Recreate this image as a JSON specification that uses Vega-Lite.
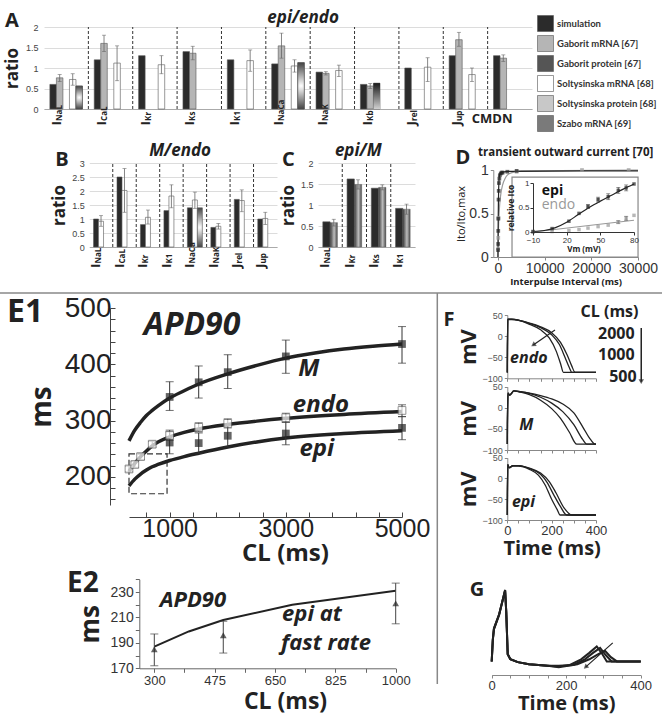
{
"$schema":"https://vega.github.io/schema/vega-lite/v6.json",
"width":662,
"height":717,
"autosize":{"type":"none"},
"padding":0,
"background":"white",
"config":{
  "view":{"stroke":null},
  "font":"Open Sans",
  "axis":{"labelFont":"Liberation Sans","labelColor":"#444","domainColor":"#888","tickColor":"#888","titleFont":"Open Sans","titleFontWeight":"bold","titleColor":"#222","grid":false,"labelOverlap":false},
  "text":{"font":"Open Sans","color":"#222"}
},
"resolve":{"scale":{"x":"independent","y":"independent","xOffset":"independent"}},
"datasets":{
 "A":[
  {"c":"INaL","s":"simulation","v":0.6},
  {"c":"INaL","s":"Gaborit mRNA [67]","v":0.76,"lo":0.67,"hi":0.84},
  {"c":"INaL","s":"Soltysinska mRNA [68]","v":0.72,"lo":0.58,"hi":0.86},
  {"c":"INaL","s":"Soltysinska protein [68]","v":0.56},
  {"c":"ICaL","s":"simulation","v":1.2},
  {"c":"ICaL","s":"Gaborit mRNA [67]","v":1.6,"lo":1.4,"hi":1.8},
  {"c":"ICaL","s":"Soltysinska mRNA [68]","v":1.12,"lo":0.69,"hi":1.54},
  {"c":"IKr","s":"simulation","v":1.3},
  {"c":"IKr","s":"Soltysinska mRNA [68]","v":1.08,"lo":0.86,"hi":1.3},
  {"c":"IKs","s":"simulation","v":1.4},
  {"c":"IKs","s":"Gaborit mRNA [67]","v":1.36,"lo":1.2,"hi":1.53},
  {"c":"IK1","s":"simulation","v":1.2},
  {"c":"IK1","s":"Soltysinska mRNA [68]","v":1.18,"lo":0.92,"hi":1.44},
  {"c":"INaCa","s":"simulation","v":1.1},
  {"c":"INaCa","s":"Gaborit mRNA [67]","v":1.54,"lo":1.24,"hi":1.85},
  {"c":"INaCa","s":"Soltysinska mRNA [68]","v":1.05,"lo":0.9,"hi":1.2},
  {"c":"INaCa","s":"Soltysinska protein [68]","v":1.13},
  {"c":"INaK","s":"simulation","v":0.9},
  {"c":"INaK","s":"Gaborit mRNA [67]","v":0.87,"lo":0.83,"hi":0.91},
  {"c":"INaK","s":"Soltysinska mRNA [68]","v":0.94,"lo":0.79,"hi":1.07},
  {"c":"IKb","s":"simulation","v":0.6},
  {"c":"IKb","s":"Gaborit mRNA [67]","v":0.56,"lo":0.5,"hi":0.62},
  {"c":"IKb","s":"Gaborit protein [67]","v":0.63},
  {"c":"Jrel","s":"simulation","v":1.0},
  {"c":"Jrel","s":"Soltysinska mRNA [68]","v":1.02,"lo":0.67,"hi":1.25},
  {"c":"Jup","s":"simulation","v":1.3},
  {"c":"Jup","s":"Gaborit mRNA [67]","v":1.69,"lo":1.53,"hi":1.87},
  {"c":"Jup","s":"Soltysinska mRNA [68]","v":0.84,"lo":0.67,"hi":1.0},
  {"c":"CMDN","s":"simulation","v":1.3},
  {"c":"CMDN","s":"Gaborit mRNA [67]","v":1.24,"lo":1.16,"hi":1.32}
 ],
 "Alab":[
  {"c":"INaL","m":"I","sub":"NaL"},{"c":"ICaL","m":"I","sub":"CaL"},{"c":"IKr","m":"I","sub":"Kr"},{"c":"IKs","m":"I","sub":"Ks"},{"c":"IK1","m":"I","sub":"K1"},{"c":"INaCa","m":"I","sub":"NaCa"},{"c":"INaK","m":"I","sub":"NaK"},{"c":"IKb","m":"I","sub":"Kb"},{"c":"Jrel","m":"J","sub":"rel"},{"c":"Jup","m":"J","sub":"up"},{"c":"CMDN","m":"CMDN","sub":""}
 ],
 "B":[
  {"c":"INaL","s":"simulation","v":1.0},{"c":"INaL","s":"Soltysinska mRNA [68]","v":0.92,"lo":0.74,"hi":1.12},
  {"c":"ICaL","s":"simulation","v":2.5},{"c":"ICaL","s":"Soltysinska mRNA [68]","v":2.02,"lo":1.24,"hi":2.8},
  {"c":"IKr","s":"simulation","v":0.8},{"c":"IKr","s":"Soltysinska mRNA [68]","v":1.06,"lo":0.82,"hi":1.32},
  {"c":"IK1","s":"simulation","v":1.3},{"c":"IK1","s":"Soltysinska mRNA [68]","v":1.82,"lo":1.4,"hi":2.22},
  {"c":"INaCa","s":"simulation","v":1.4},{"c":"INaCa","s":"Soltysinska mRNA [68]","v":1.68,"lo":1.38,"hi":1.96},{"c":"INaCa","s":"Soltysinska protein [68]","v":1.4},
  {"c":"INaK","s":"simulation","v":0.7},{"c":"INaK","s":"Soltysinska mRNA [68]","v":0.74,"lo":0.64,"hi":0.84},
  {"c":"Jrel","s":"simulation","v":1.7},{"c":"Jrel","s":"Soltysinska mRNA [68]","v":1.66,"lo":1.26,"hi":2.04},
  {"c":"Jup","s":"simulation","v":1.0},{"c":"Jup","s":"Soltysinska mRNA [68]","v":1.02,"lo":0.8,"hi":1.24}
 ],
 "Blab":[
  {"c":"INaL","m":"I","sub":"NaL"},{"c":"ICaL","m":"I","sub":"CaL"},{"c":"IKr","m":"I","sub":"Kr"},{"c":"IK1","m":"I","sub":"K1"},{"c":"INaCa","m":"I","sub":"NaCa"},{"c":"INaK","m":"I","sub":"NaK"},{"c":"Jrel","m":"J","sub":"rel"},{"c":"Jup","m":"J","sub":"up"}
 ],
 "C":[
  {"c":"INaL","s":"simulation","v":0.6},{"c":"INaL","s":"Szabo mRNA [69]","v":0.58,"lo":0.5,"hi":0.66},
  {"c":"IKr","s":"simulation","v":1.62},{"c":"IKr","s":"Szabo mRNA [69]","v":1.49,"lo":1.38,"hi":1.6},
  {"c":"IKs","s":"simulation","v":1.4},{"c":"IKs","s":"Szabo mRNA [69]","v":1.42,"lo":1.36,"hi":1.48},
  {"c":"IK1","s":"simulation","v":0.92},{"c":"IK1","s":"Szabo mRNA [69]","v":0.9,"lo":0.78,"hi":1.02}
 ],
 "Clab":[
  {"c":"INaL","m":"I","sub":"NaL"},{"c":"IKr","m":"I","sub":"Kr"},{"c":"IKs","m":"I","sub":"Ks"},{"c":"IK1","m":"I","sub":"K1"}
 ],
 "Dpts":[
  {"g":"epi","t":20,"v":0.08},{"g":"epi","t":40,"v":0.15},{"g":"epi","t":60,"v":0.3},{"g":"epi","t":80,"v":0.44},{"g":"epi","t":120,"v":0.66},{"g":"epi","t":160,"v":0.76},{"g":"epi","t":200,"v":0.85},{"g":"epi","t":300,"v":0.9},{"g":"epi","t":400,"v":0.94},{"g":"epi","t":600,"v":0.96},{"g":"epi","t":800,"v":0.97},{"g":"epi","t":1000,"v":0.97},{"g":"epi","t":2000,"v":0.98},{"g":"epi","t":4000,"v":0.99},
  {"g":"endo","t":30,"v":0.1},{"g":"endo","t":60,"v":0.22},{"g":"endo","t":100,"v":0.45},{"g":"endo","t":2800,"v":0.8},{"g":"endo","t":4000,"v":0.98},{"g":"endo","t":18000,"v":1.0},{"g":"endo","t":28000,"v":1.0}
 ],
 "Dfit":[
  {"g":"epi","t":0,"v":0},{"g":"epi","t":20,"v":0.2},{"g":"epi","t":50,"v":0.42},{"g":"epi","t":100,"v":0.65},{"g":"epi","t":150,"v":0.78},{"g":"epi","t":200,"v":0.86},{"g":"epi","t":300,"v":0.93},{"g":"epi","t":500,"v":0.965},{"g":"epi","t":1000,"v":0.975},{"g":"epi","t":3000,"v":0.985},{"g":"epi","t":30000,"v":0.99},
  {"g":"endo","t":0,"v":0},{"g":"endo","t":100,"v":0.3},{"g":"endo","t":300,"v":0.55},{"g":"endo","t":600,"v":0.72},{"g":"endo","t":1000,"v":0.83},{"g":"endo","t":1500,"v":0.9},{"g":"endo","t":2000,"v":0.94},{"g":"endo","t":3000,"v":0.97},{"g":"endo","t":5000,"v":0.99},{"g":"endo","t":30000,"v":1.0}
 ],
 "Dinpts":[
  {"g":"epi","vm":-10,"r":0.01},{"g":"epi","vm":7,"r":0.07},{"g":"epi","vm":22,"r":0.22},{"g":"epi","vm":31,"r":0.38},{"g":"epi","vm":39,"r":0.52,"lo":0.48,"hi":0.56},{"g":"epi","vm":48,"r":0.66,"lo":0.61,"hi":0.71},{"g":"epi","vm":57,"r":0.72,"lo":0.66,"hi":0.78},{"g":"epi","vm":66,"r":0.85,"lo":0.79,"hi":0.91},{"g":"epi","vm":73,"r":0.9,"lo":0.84,"hi":0.96},{"g":"epi","vm":80,"r":0.98},
  {"g":"endo","vm":-10,"r":0.0},{"g":"endo","vm":7,"r":0.01},{"g":"endo","vm":22,"r":0.03},{"g":"endo","vm":31,"r":0.05},{"g":"endo","vm":39,"r":0.08},{"g":"endo","vm":48,"r":0.11},{"g":"endo","vm":57,"r":0.14},{"g":"endo","vm":66,"r":0.2,"lo":0.17,"hi":0.23},{"g":"endo","vm":73,"r":0.28,"lo":0.24,"hi":0.32},{"g":"endo","vm":80,"r":0.34}
 ],
 "Dinfit":[
  {"g":"epi","vm":-10,"r":0.01},{"g":"epi","vm":0,"r":0.03},{"g":"epi","vm":10,"r":0.09},{"g":"epi","vm":20,"r":0.2},{"g":"epi","vm":30,"r":0.35},{"g":"epi","vm":40,"r":0.5},{"g":"epi","vm":50,"r":0.63},{"g":"epi","vm":60,"r":0.75},{"g":"epi","vm":70,"r":0.87},{"g":"epi","vm":80,"r":0.98},
  {"g":"endo","vm":-10,"r":0.0},{"g":"endo","vm":80,"r":0.24}
 ],
 "E1pts":[
  {"g":"M","cl":1000,"v":342,"lo":318,"hi":369},{"g":"M","cl":1500,"v":368,"lo":340,"hi":397},{"g":"M","cl":2000,"v":386,"lo":357,"hi":417},{"g":"M","cl":3000,"v":414,"lo":384,"hi":443},{"g":"M","cl":5000,"v":436,"lo":402,"hi":467},
  {"g":"endo","cl":300,"v":214,"lo":209,"hi":219},{"g":"endo","cl":400,"v":222,"lo":217,"hi":227},{"g":"endo","cl":500,"v":236,"lo":231,"hi":241},{"g":"endo","cl":700,"v":258,"lo":253,"hi":263},{"g":"endo","cl":1000,"v":274,"lo":265,"hi":283},{"g":"endo","cl":1500,"v":288,"lo":280,"hi":296},{"g":"endo","cl":2000,"v":295,"lo":287,"hi":303},{"g":"endo","cl":3000,"v":305,"lo":297,"hi":313},{"g":"endo","cl":5000,"v":318,"lo":307,"hi":328},
  {"g":"epi","cl":1000,"v":261,"lo":241,"hi":280},{"g":"epi","cl":1500,"v":260,"lo":242,"hi":278},{"g":"epi","cl":2000,"v":273,"lo":253,"hi":292},{"g":"epi","cl":3000,"v":277,"lo":257,"hi":297},{"g":"epi","cl":5000,"v":287,"lo":266,"hi":307}
 ],
 "E1fit":[
  {"g":"M","cl":300,"v":264},{"g":"M","cl":400,"v":283},{"g":"M","cl":500,"v":297},{"g":"M","cl":600,"v":309},{"g":"M","cl":700,"v":318},{"g":"M","cl":800,"v":326},{"g":"M","cl":1000,"v":340},{"g":"M","cl":1250,"v":353},{"g":"M","cl":1500,"v":365},{"g":"M","cl":2000,"v":383},{"g":"M","cl":2500,"v":398},{"g":"M","cl":3000,"v":411},{"g":"M","cl":3500,"v":420},{"g":"M","cl":4000,"v":427},{"g":"M","cl":4500,"v":432},{"g":"M","cl":5000,"v":436},
  {"g":"endo","cl":300,"v":210},{"g":"endo","cl":400,"v":224},{"g":"endo","cl":500,"v":236},{"g":"endo","cl":600,"v":246},{"g":"endo","cl":700,"v":255},{"g":"endo","cl":800,"v":262},{"g":"endo","cl":1000,"v":271},{"g":"endo","cl":1250,"v":279},{"g":"endo","cl":1500,"v":285},{"g":"endo","cl":2000,"v":293},{"g":"endo","cl":2500,"v":299},{"g":"endo","cl":3000,"v":304},{"g":"endo","cl":4000,"v":311},{"g":"endo","cl":5000,"v":316},
  {"g":"epi","cl":300,"v":184},{"g":"epi","cl":400,"v":196},{"g":"epi","cl":500,"v":205},{"g":"epi","cl":600,"v":212},{"g":"epi","cl":700,"v":218},{"g":"epi","cl":800,"v":222},{"g":"epi","cl":1000,"v":229},{"g":"epi","cl":1250,"v":236},{"g":"epi","cl":1500,"v":242},{"g":"epi","cl":2000,"v":253},{"g":"epi","cl":2500,"v":262},{"g":"epi","cl":3000,"v":269},{"g":"epi","cl":4000,"v":277},{"g":"epi","cl":5000,"v":282}
 ],
 "E2pts":[{"cl":300,"v":185,"lo":172,"hi":197},{"cl":500,"v":196,"lo":182,"hi":207},{"cl":1000,"v":221,"lo":205,"hi":237}],
 "E2fit":[{"cl":300,"v":187},{"cl":400,"v":199},{"cl":500,"v":208},{"cl":700,"v":220},{"cl":1000,"v":231}],
 "Fendo":[
  {"c":2000,"t":0,"v":-86},{"c":2000,"t":0.5,"v":-40},{"c":2000,"t":2,"v":40},{"c":2000,"t":20,"v":40},{"c":2000,"t":50,"v":38},{"c":2000,"t":100,"v":31},{"c":2000,"t":150,"v":22},{"c":2000,"t":200,"v":8},{"c":2000,"t":240,"v":-15},{"c":2000,"t":270,"v":-45},{"c":2000,"t":290,"v":-70},{"c":2000,"t":306,"v":-86},{"c":2000,"t":400,"v":-86},
  {"c":1000,"t":0,"v":-86},{"c":1000,"t":0.5,"v":-40},{"c":1000,"t":2,"v":40},{"c":1000,"t":20,"v":40},{"c":1000,"t":50,"v":38},{"c":1000,"t":100,"v":30},{"c":1000,"t":150,"v":20},{"c":1000,"t":200,"v":3},{"c":1000,"t":235,"v":-20},{"c":1000,"t":260,"v":-50},{"c":1000,"t":280,"v":-75},{"c":1000,"t":291,"v":-86},{"c":1000,"t":400,"v":-86},
  {"c":500,"t":0,"v":-86},{"c":500,"t":0.5,"v":-40},{"c":500,"t":2,"v":39},{"c":500,"t":20,"v":39},{"c":500,"t":50,"v":37},{"c":500,"t":100,"v":28},{"c":500,"t":150,"v":15},{"c":500,"t":190,"v":-5},{"c":500,"t":220,"v":-35},{"c":500,"t":240,"v":-65},{"c":500,"t":253,"v":-86},{"c":500,"t":400,"v":-86}
 ],
 "FM":[
  {"c":2000,"t":0,"v":-86},{"c":2000,"t":0.5,"v":-40},{"c":2000,"t":3,"v":35},{"c":2000,"t":10,"v":30},{"c":2000,"t":30,"v":40},{"c":2000,"t":60,"v":38},{"c":2000,"t":100,"v":35},{"c":2000,"t":150,"v":29},{"c":2000,"t":200,"v":21},{"c":2000,"t":250,"v":9},{"c":2000,"t":300,"v":-12},{"c":2000,"t":340,"v":-45},{"c":2000,"t":375,"v":-75},{"c":2000,"t":396,"v":-86},{"c":2000,"t":400,"v":-86},
  {"c":1000,"t":0,"v":-86},{"c":1000,"t":0.5,"v":-40},{"c":1000,"t":3,"v":35},{"c":1000,"t":10,"v":30},{"c":1000,"t":30,"v":40},{"c":1000,"t":60,"v":38},{"c":1000,"t":100,"v":34},{"c":1000,"t":150,"v":25},{"c":1000,"t":200,"v":11},{"c":1000,"t":250,"v":-9},{"c":1000,"t":300,"v":-40},{"c":1000,"t":340,"v":-75},{"c":1000,"t":358,"v":-86},{"c":1000,"t":400,"v":-86},
  {"c":500,"t":0,"v":-86},{"c":500,"t":0.5,"v":-40},{"c":500,"t":3,"v":35},{"c":500,"t":10,"v":30},{"c":500,"t":30,"v":40},{"c":500,"t":60,"v":37},{"c":500,"t":100,"v":31},{"c":500,"t":150,"v":18},{"c":500,"t":200,"v":-2},{"c":500,"t":240,"v":-25},{"c":500,"t":280,"v":-58},{"c":500,"t":313,"v":-86},{"c":500,"t":400,"v":-86}
 ],
 "Fepi":[
  {"c":2000,"t":0,"v":-88},{"c":2000,"t":0.5,"v":-40},{"c":2000,"t":2,"v":33},{"c":2000,"t":8,"v":26},{"c":2000,"t":25,"v":31},{"c":2000,"t":50,"v":31},{"c":2000,"t":100,"v":25},{"c":2000,"t":150,"v":13},{"c":2000,"t":190,"v":-8},{"c":2000,"t":220,"v":-35},{"c":2000,"t":255,"v":-70},{"c":2000,"t":291,"v":-88},{"c":2000,"t":400,"v":-88},
  {"c":1000,"t":0,"v":-88},{"c":1000,"t":0.5,"v":-40},{"c":1000,"t":2,"v":33},{"c":1000,"t":8,"v":26},{"c":1000,"t":25,"v":31},{"c":1000,"t":50,"v":31},{"c":1000,"t":100,"v":24},{"c":1000,"t":150,"v":10},{"c":1000,"t":180,"v":-10},{"c":1000,"t":210,"v":-40},{"c":1000,"t":240,"v":-68},{"c":1000,"t":268,"v":-88},{"c":1000,"t":400,"v":-88},
  {"c":500,"t":0,"v":-88},{"c":500,"t":0.5,"v":-40},{"c":500,"t":2,"v":33},{"c":500,"t":8,"v":26},{"c":500,"t":25,"v":30},{"c":500,"t":50,"v":30},{"c":500,"t":100,"v":22},{"c":500,"t":140,"v":8},{"c":500,"t":170,"v":-15},{"c":500,"t":200,"v":-50},{"c":500,"t":225,"v":-75},{"c":500,"t":238,"v":-88},{"c":500,"t":400,"v":-88}
 ],
 "G":[
  {"k":"a","t":0,"v":0},{"k":"a","t":3,"v":0.3},{"k":"a","t":6,"v":0.45},{"k":"a","t":20,"v":0.65},{"k":"a","t":36,"v":1.0},{"k":"a","t":39,"v":0.7},{"k":"a","t":43,"v":0.1},{"k":"a","t":50,"v":0.03},{"k":"a","t":70,"v":-0.01},{"k":"a","t":100,"v":-0.04},{"k":"a","t":150,"v":-0.06},{"k":"a","t":180,"v":-0.07},{"k":"a","t":210,"v":-0.05},{"k":"a","t":240,"v":0.03},{"k":"a","t":262,"v":0.12},{"k":"a","t":282,"v":0.21},{"k":"a","t":296,"v":0.11},{"k":"a","t":309,"v":0},{"k":"a","t":400,"v":0},
  {"k":"b","t":0,"v":0},{"k":"b","t":3,"v":0.3},{"k":"b","t":6,"v":0.46},{"k":"b","t":20,"v":0.66},{"k":"b","t":36,"v":1.0},{"k":"b","t":39,"v":0.7},{"k":"b","t":43,"v":0.1},{"k":"b","t":50,"v":0.03},{"k":"b","t":70,"v":-0.01},{"k":"b","t":100,"v":-0.04},{"k":"b","t":150,"v":-0.06},{"k":"b","t":180,"v":-0.06},{"k":"b","t":220,"v":-0.05},{"k":"b","t":250,"v":0.03},{"k":"b","t":272,"v":0.12},{"k":"b","t":291,"v":0.19},{"k":"b","t":306,"v":0.09},{"k":"b","t":322,"v":0},{"k":"b","t":400,"v":0},
  {"k":"c","t":0,"v":0},{"k":"c","t":3,"v":0.31},{"k":"c","t":6,"v":0.46},{"k":"c","t":20,"v":0.66},{"k":"c","t":36,"v":0.99},{"k":"c","t":39,"v":0.7},{"k":"c","t":43,"v":0.1},{"k":"c","t":50,"v":0.03},{"k":"c","t":70,"v":-0.01},{"k":"c","t":100,"v":-0.04},{"k":"c","t":150,"v":-0.06},{"k":"c","t":180,"v":-0.08},{"k":"c","t":230,"v":-0.04},{"k":"c","t":262,"v":0.03},{"k":"c","t":285,"v":0.1},{"k":"c","t":304,"v":0.15},{"k":"c","t":320,"v":0.06},{"k":"c","t":336,"v":0},{"k":"c","t":400,"v":0}
 ]
},
"layer":[
 {
  "encoding":{"x":{"field":"c","type":"nominal","scale":{"domain":["INaL","ICaL","IKr","IKs","IK1","INaCa","INaK","IKb","Jrel","Jup","CMDN"],"range":[44,532],"paddingInner":0,"paddingOuter":0},"axis":{"orient":"bottom","title":null,"labels":false,"ticks":false,"domainColor":"#aaa","offset":-608}}},
  "layer":[
   {"data":{"name":"A"},"mark":{"type":"bar","stroke":"#555","strokeWidth":0.6},
    "encoding":{
     "xOffset":{"field":"s","type":"nominal","scale":{"domain":["simulation","Gaborit mRNA [67]","Gaborit protein [67]","Soltysinska mRNA [68]","Soltysinska protein [68]"],"paddingInner":0,"paddingOuter":0.9}},
     "y":{"field":"v","type":"quantitative","scale":{"domain":[0,2],"range":[109,27]},"axis":{"orient":"left","title":"ratio","values":[0,0.5,1,1.5,2],"format":"~g","grid":true,"gridColor":"#dcdcdc","domain":false,"ticks":false,"labelFontSize":9,"titleFontSize":17,"labelPadding":6,"titlePadding":4,"offset":-44}},
     "color":{"field":"s","type":"nominal","scale":{"domain":["simulation","Gaborit mRNA [67]","Gaborit protein [67]","Soltysinska mRNA [68]","Soltysinska protein [68]","Szabo mRNA [69]"],"range":["#2b2b2b","#b5b5b5","#555555","#ffffff","#c8c8c8","#7a7a7a"]},
      "legend":{"title":null,"orient":"none","legendX":537,"legendY":15,"symbolType":"square","symbolSize":256,"symbolStrokeColor":"#555","symbolStrokeWidth":0.6,"labelFont":"Lato","labelFontSize":9.5,"labelFontWeight":"bold","labelColor":"#333","rowPadding":1,"labelOffset":3,"labelLimit":200}}
    }},
   {"data":{"name":"Alab"},"transform":[{"filter":"datum.c !== 'INaL'"}],"mark":{"type":"rule","strokeDash":[3,2],"color":"#333","strokeWidth":1},"encoding":{"x":{"field":"c","type":"nominal","bandPosition":0},"y":{"datum":0,"type":"quantitative"},"y2":{"datum":2}}},
   {"data":{"name":"A"},"transform":[{"filter":"datum.s === 'Soltysinska protein [68]'"}],
    "mark":{"type":"bar","stroke":"#555","strokeWidth":0.6,"fill":{"gradient":"radial","x1":0.5,"y1":0.5,"r1":0,"x2":0.5,"y2":0.5,"r2":0.6,"stops":[{"offset":0,"color":"#ffffff"},{"offset":1,"color":"#1e1e1e"}]}},
    "encoding":{"xOffset":{"field":"s","type":"nominal"},"y":{"field":"v","type":"quantitative"}}},
   {"data":{"name":"A"},"transform":[{"filter":"datum.s === 'Gaborit protein [67]'"}],
    "mark":{"type":"bar","strokeWidth":0,"fill":{"gradient":"linear","x1":0,"y1":0,"x2":0,"y2":1,"stops":[{"offset":0,"color":"#1a1a1a"},{"offset":1,"color":"#d0d0d0"}]}},
    "encoding":{"xOffset":{"field":"s","type":"nominal"},"y":{"field":"v","type":"quantitative"}}},
   {"data":{"name":"A"},"transform":[{"filter":"isValid(datum.hi)"}],"mark":{"type":"rule","color":"#666","strokeWidth":0.8},"encoding":{"xOffset":{"field":"s","type":"nominal"},"y":{"field":"lo","type":"quantitative"},"y2":{"field":"hi"}}},
   {"data":{"name":"A"},"transform":[{"filter":"isValid(datum.hi)"}],"mark":{"type":"tick","orient":"horizontal","color":"#666","thickness":0.8,"size":4},"encoding":{"xOffset":{"field":"s","type":"nominal"},"y":{"field":"lo","type":"quantitative"}}},
   {"data":{"name":"A"},"transform":[{"filter":"isValid(datum.hi)"}],"mark":{"type":"tick","orient":"horizontal","color":"#666","thickness":0.8,"size":4},"encoding":{"xOffset":{"field":"s","type":"nominal"},"y":{"field":"hi","type":"quantitative"}}},
   {"data":{"name":"Alab"},"transform":[{"filter":"datum.c !== 'CMDN'"}],"mark":{"type":"text","align":"left","baseline":"middle","angle":270,"fontSize":13,"fontWeight":"bold"},"encoding":{"x":{"field":"c","type":"nominal","bandPosition":0.3},"y":{"datum":-0.4,"type":"quantitative"},"text":{"field":"m"}}},
   {"data":{"name":"Alab"},"transform":[{"filter":"datum.c !== 'CMDN'"}],"mark":{"type":"text","align":"left","baseline":"middle","angle":270,"fontSize":8,"fontWeight":"bold","dx":4.5,"dy":3},"encoding":{"x":{"field":"c","type":"nominal","bandPosition":0.3},"y":{"datum":-0.4,"type":"quantitative"},"text":{"field":"sub"}}},
   {"data":{"name":"Alab"},"transform":[{"filter":"datum.c === 'CMDN'"}],"mark":{"type":"text","align":"center","baseline":"middle","fontSize":13,"fontWeight":"bold"},"encoding":{"x":{"field":"c","type":"nominal","bandPosition":0.1},"y":{"datum":-0.24,"type":"quantitative"},"text":{"field":"m"}}},
   {"data":{"values":[{}]},"mark":{"type":"text","fontSize":17,"fontWeight":"bold","fontStyle":"italic","baseline":"middle"},"encoding":{"x":{"datum":"INaCa","type":"nominal","bandPosition":0.84},"y":{"datum":2.22,"type":"quantitative"},"text":{"value":"epi/endo"}}},
   {"data":{"values":[{}]},"mark":{"type":"text","fontSize":20,"fontWeight":"bold","align":"left","baseline":"top"},"encoding":{"x":{"datum":"INaL","type":"nominal","bandPosition":-0.88},"y":{"datum":2.39,"type":"quantitative"},"text":{"value":"A"}}}
  ]
 },
 {
  "encoding":{"x":{"field":"c","type":"nominal","scale":{"domain":["INaL","ICaL","IKr","IK1","INaCa","INaK","Jrel","Jup"],"range":[89.3,277],"paddingInner":0,"paddingOuter":0},"axis":{"orient":"bottom","title":null,"labels":false,"ticks":false,"domainColor":"#aaa","offset":-470}}},
  "layer":[
   {"data":{"name":"B"},"transform":[{"filter":"datum.s === 'simulation'"}],"mark":{"type":"bar","fill":"#2b2b2b","stroke":"#555","strokeWidth":0.6},
    "encoding":{"xOffset":{"field":"s","type":"nominal","scale":{"domain":["simulation","Soltysinska mRNA [68]","Soltysinska protein [68]"],"paddingInner":0,"paddingOuter":0.85}},
     "y":{"field":"v","type":"quantitative","scale":{"domain":[0,3],"range":[247,163]},"axis":{"orient":"left","title":"ratio","values":[0,0.5,1,1.5,2,2.5,3],"format":"~g","grid":true,"gridColor":"#dcdcdc","domain":false,"ticks":false,"labelFontSize":9,"titleFontSize":17,"labelPadding":5,"titlePadding":3,"offset":-89.3}}}},
   {"data":{"name":"Blab"},"transform":[{"filter":"datum.c !== 'INaL'"}],"mark":{"type":"rule","strokeDash":[3,2],"color":"#333","strokeWidth":1},"encoding":{"x":{"field":"c","type":"nominal","bandPosition":0},"y":{"datum":0,"type":"quantitative"},"y2":{"datum":3}}},
   {"data":{"name":"B"},"transform":[{"filter":"datum.s === 'Soltysinska mRNA [68]'"}],"mark":{"type":"bar","fill":"#ffffff","stroke":"#555","strokeWidth":0.6},"encoding":{"xOffset":{"field":"s","type":"nominal"},"y":{"field":"v","type":"quantitative"}}},
   {"data":{"name":"B"},"transform":[{"filter":"datum.s === 'Soltysinska protein [68]'"}],
    "mark":{"type":"bar","stroke":"#555","strokeWidth":0.6,"fill":{"gradient":"radial","x1":0.5,"y1":0.5,"r1":0,"x2":0.5,"y2":0.5,"r2":0.6,"stops":[{"offset":0,"color":"#ffffff"},{"offset":1,"color":"#1e1e1e"}]}},
    "encoding":{"xOffset":{"field":"s","type":"nominal"},"y":{"field":"v","type":"quantitative"}}},
   {"data":{"name":"B"},"transform":[{"filter":"isValid(datum.hi)"}],"mark":{"type":"rule","color":"#666","strokeWidth":0.8},"encoding":{"xOffset":{"field":"s","type":"nominal"},"y":{"field":"lo","type":"quantitative"},"y2":{"field":"hi"}}},
   {"data":{"name":"B"},"transform":[{"filter":"isValid(datum.hi)"}],"mark":{"type":"tick","orient":"horizontal","color":"#666","thickness":0.8,"size":4},"encoding":{"xOffset":{"field":"s","type":"nominal"},"y":{"field":"lo","type":"quantitative"}}},
   {"data":{"name":"B"},"transform":[{"filter":"isValid(datum.hi)"}],"mark":{"type":"tick","orient":"horizontal","color":"#666","thickness":0.8,"size":4},"encoding":{"xOffset":{"field":"s","type":"nominal"},"y":{"field":"hi","type":"quantitative"}}},
   {"data":{"name":"Blab"},"mark":{"type":"text","align":"left","baseline":"middle","angle":270,"fontSize":13,"fontWeight":"bold"},"encoding":{"x":{"field":"c","type":"nominal","bandPosition":0.3},"y":{"datum":-0.75,"type":"quantitative"},"text":{"field":"m"}}},
   {"data":{"name":"Blab"},"mark":{"type":"text","align":"left","baseline":"middle","angle":270,"fontSize":8,"fontWeight":"bold","dx":4.5,"dy":3},"encoding":{"x":{"field":"c","type":"nominal","bandPosition":0.3},"y":{"datum":-0.75,"type":"quantitative"},"text":{"field":"sub"}}},
   {"data":{"values":[{}]},"mark":{"type":"text","fontSize":17,"fontWeight":"bold","fontStyle":"italic","baseline":"middle"},"encoding":{"x":{"datum":"IK1","type":"nominal","bandPosition":0.87},"y":{"datum":3.43,"type":"quantitative"},"text":{"value":"M/endo"}}},
   {"data":{"values":[{}]},"mark":{"type":"text","fontSize":20,"fontWeight":"bold","align":"left","baseline":"top"},"encoding":{"x":{"datum":"INaL","type":"nominal","bandPosition":-1.45},"y":{"datum":3.47,"type":"quantitative"},"text":{"value":"B"}}}
  ]
 },
 {
  "encoding":{"x":{"field":"c","type":"nominal","scale":{"domain":["INaL","IKr","IKs","IK1"],"range":[318,415],"paddingInner":0,"paddingOuter":0},"axis":{"orient":"bottom","title":null,"labels":false,"ticks":false,"domainColor":"#aaa","offset":-470}}},
  "layer":[
   {"data":{"name":"C"},"transform":[{"filter":"datum.s === 'simulation'"}],"mark":{"type":"bar","fill":"#2b2b2b","stroke":"#555","strokeWidth":0.6},
    "encoding":{"xOffset":{"field":"s","type":"nominal","scale":{"domain":["simulation","Szabo mRNA [69]"],"paddingInner":0,"paddingOuter":0.66}},
     "y":{"field":"v","type":"quantitative","scale":{"domain":[0,2],"range":[247,163]},"axis":{"orient":"left","title":"ratio","values":[0,0.5,1,1.5,2],"format":"~g","grid":true,"gridColor":"#dcdcdc","domain":false,"ticks":false,"labelFontSize":9,"titleFontSize":17,"labelPadding":5,"titlePadding":3,"offset":-318}}}},
   {"data":{"name":"Clab"},"transform":[{"filter":"datum.c !== 'INaL'"}],"mark":{"type":"rule","strokeDash":[3,2],"color":"#333","strokeWidth":1},"encoding":{"x":{"field":"c","type":"nominal","bandPosition":0},"y":{"datum":0,"type":"quantitative"},"y2":{"datum":2}}},
   {"data":{"name":"C"},"transform":[{"filter":"datum.s === 'Szabo mRNA [69]'"}],
    "mark":{"type":"bar","stroke":"#555","strokeWidth":0.4,"fill":{"gradient":"linear","x1":0,"y1":0,"x2":1,"y2":0,"stops":[{"offset":0,"color":"#3a3a3a"},{"offset":0.55,"color":"#bdbdbd"},{"offset":1,"color":"#4a4a4a"}]}},
    "encoding":{"xOffset":{"field":"s","type":"nominal"},"y":{"field":"v","type":"quantitative"}}},
   {"data":{"name":"C"},"transform":[{"filter":"isValid(datum.hi)"}],"mark":{"type":"rule","color":"#666","strokeWidth":0.8},"encoding":{"xOffset":{"field":"s","type":"nominal"},"y":{"field":"lo","type":"quantitative"},"y2":{"field":"hi"}}},
   {"data":{"name":"C"},"transform":[{"filter":"isValid(datum.hi)"}],"mark":{"type":"tick","orient":"horizontal","color":"#666","thickness":0.8,"size":4},"encoding":{"xOffset":{"field":"s","type":"nominal"},"y":{"field":"lo","type":"quantitative"}}},
   {"data":{"name":"C"},"transform":[{"filter":"isValid(datum.hi)"}],"mark":{"type":"tick","orient":"horizontal","color":"#666","thickness":0.8,"size":4},"encoding":{"xOffset":{"field":"s","type":"nominal"},"y":{"field":"hi","type":"quantitative"}}},
   {"data":{"name":"Clab"},"mark":{"type":"text","align":"left","baseline":"middle","angle":270,"fontSize":13,"fontWeight":"bold"},"encoding":{"x":{"field":"c","type":"nominal","bandPosition":0.3},"y":{"datum":-0.5,"type":"quantitative"},"text":{"field":"m"}}},
   {"data":{"name":"Clab"},"mark":{"type":"text","align":"left","baseline":"middle","angle":270,"fontSize":8,"fontWeight":"bold","dx":4.5,"dy":3},"encoding":{"x":{"field":"c","type":"nominal","bandPosition":0.3},"y":{"datum":-0.5,"type":"quantitative"},"text":{"field":"sub"}}},
   {"data":{"values":[{}]},"mark":{"type":"text","fontSize":17,"fontWeight":"bold","fontStyle":"italic","baseline":"middle"},"encoding":{"x":{"datum":"IKr","type":"nominal","bandPosition":0.66},"y":{"datum":2.29,"type":"quantitative"},"text":{"value":"epi/M"}}},
   {"data":{"values":[{}]},"mark":{"type":"text","fontSize":20,"fontWeight":"bold","align":"left","baseline":"top"},"encoding":{"x":{"datum":"INaL","type":"nominal","bandPosition":-1.48},"y":{"datum":2.31,"type":"quantitative"},"text":{"value":"C"}}}
  ]
 },
 {
  "layer":[
   {"data":{"name":"Dfit"},"transform":[{"filter":"datum.g === 'endo'"}],"mark":{"type":"line","color":"#999","strokeWidth":1.2,"interpolate":"monotone"},
    "encoding":{
     "x":{"field":"t","type":"quantitative","scale":{"domain":[-1000,30000],"range":[493.3,638],"nice":false,"zero":false},"axis":{"orient":"bottom","values":[0,10000,20000,30000],"format":"d","title":"Interpulse Interval (ms)","titleFontSize":9.5,"titlePadding":1,"labelFontSize":14,"labelPadding":1,"tickSize":3,"labelFlush":false,"labelColor":"#333","offset":-460}},
     "y":{"field":"v","type":"quantitative","scale":{"domain":[0,1],"range":[257,170],"nice":false,"zero":false},"axis":{"orient":"left","values":[0,0.5,1],"format":"~g","title":"Ito/Ito,max","titleFontSize":11,"titleFontWeight":"normal","titlePadding":2,"labelFontSize":14,"labelPadding":2,"tickSize":3,"labelColor":"#333","offset":-493.3}}}},
   {"data":{"name":"Dfit"},"transform":[{"filter":"datum.g === 'epi'"}],"mark":{"type":"line","color":"#222","strokeWidth":1.2,"interpolate":"monotone"},"encoding":{"x":{"field":"t","type":"quantitative"},"y":{"field":"v","type":"quantitative"}}},
   {"data":{"name":"Dpts"},"transform":[{"filter":"datum.g === 'endo'"}],"mark":{"type":"square","filled":true,"color":"#999","size":14},"encoding":{"x":{"field":"t","type":"quantitative"},"y":{"field":"v","type":"quantitative"}}},
   {"data":{"name":"Dpts"},"transform":[{"filter":"datum.g === 'epi'"}],"mark":{"type":"square","filled":true,"color":"#222","size":14},"encoding":{"x":{"field":"t","type":"quantitative"},"y":{"field":"v","type":"quantitative"}}},
   {"data":{"values":[{}]},"mark":{"type":"text","fontSize":11.5,"fontWeight":"bold","baseline":"middle"},"encoding":{"x":{"datum":14500,"type":"quantitative"},"y":{"datum":1.2,"type":"quantitative"},"text":{"value":"transient outward current [70]"}}},
   {"data":{"values":[{}]},"mark":{"type":"text","fontSize":20,"fontWeight":"bold","align":"left","baseline":"top"},"encoding":{"x":{"datum":-9124,"type":"quantitative"},"y":{"datum":1.253,"type":"quantitative"},"text":{"value":"D"}}}
  ]
 },
 {
  "layer":[
   {"data":{"values":[{}]},"mark":{"type":"rect","fill":"#ffffff","stroke":"#888","strokeWidth":1.2},"encoding":{"x":{"datum":-28.7,"type":"quantitative"},"x2":{"datum":83.6},"y":{"datum":-0.51,"type":"quantitative"},"y2":{"datum":1.12}}},
   {"data":{"name":"Dinfit"},"transform":[{"filter":"datum.g === 'endo'"}],"mark":{"type":"line","color":"#999","strokeWidth":1.2},
    "encoding":{
     "x":{"field":"vm","type":"quantitative","scale":{"domain":[-10,80],"range":[533,634],"nice":false,"zero":false},"axis":{"orient":"bottom","values":[-10,20,50,80],"title":"Vm (mV)","titleFontSize":8,"titlePadding":1,"labelFontSize":8,"labelPadding":1,"tickSize":3,"labelFlush":false,"zindex":1,"domainColor":"#333","tickColor":"#333","labelColor":"#333","offset":-485}},
     "y":{"field":"r","type":"quantitative","scale":{"domain":[0,1],"range":[232,183],"nice":false,"zero":false},"axis":{"orient":"left","values":[0,0.5,1],"format":"~g","title":"relative Ito","titleFontSize":8.5,"titlePadding":2,"labelFontSize":8,"labelPadding":1,"tickSize":3,"zindex":1,"domainColor":"#333","tickColor":"#333","labelColor":"#333","offset":-533}}}},
   {"data":{"name":"Dinfit"},"transform":[{"filter":"datum.g === 'epi'"}],"mark":{"type":"line","color":"#222","strokeWidth":1.2,"interpolate":"monotone"},"encoding":{"x":{"field":"vm","type":"quantitative"},"y":{"field":"r","type":"quantitative"}}},
   {"data":{"name":"Dinpts"},"transform":[{"filter":"isValid(datum.hi)"}],"mark":{"type":"rule","color":"#444","strokeWidth":0.8},"encoding":{"x":{"field":"vm","type":"quantitative"},"y":{"field":"lo","type":"quantitative"},"y2":{"field":"hi"}}},
   {"data":{"name":"Dinpts"},"transform":[{"filter":"isValid(datum.hi)"}],"mark":{"type":"tick","orient":"horizontal","color":"#444","thickness":0.8,"size":4},"encoding":{"x":{"field":"vm","type":"quantitative"},"y":{"field":"lo","type":"quantitative"}}},
   {"data":{"name":"Dinpts"},"transform":[{"filter":"isValid(datum.hi)"}],"mark":{"type":"tick","orient":"horizontal","color":"#444","thickness":0.8,"size":4},"encoding":{"x":{"field":"vm","type":"quantitative"},"y":{"field":"hi","type":"quantitative"}}},
   {"data":{"name":"Dinpts"},"transform":[{"filter":"datum.g === 'endo'"}],"mark":{"type":"square","filled":true,"color":"#999","size":12},"encoding":{"x":{"field":"vm","type":"quantitative"},"y":{"field":"r","type":"quantitative"}}},
   {"data":{"name":"Dinpts"},"transform":[{"filter":"datum.g === 'epi'"}],"mark":{"type":"square","filled":true,"color":"#222","size":12},"encoding":{"x":{"field":"vm","type":"quantitative"},"y":{"field":"r","type":"quantitative"}}},
   {"data":{"values":[{}]},"mark":{"type":"text","fontSize":14,"fontWeight":"bold","align":"left","baseline":"middle","color":"#111"},"encoding":{"x":{"datum":-2.2,"type":"quantitative"},"y":{"datum":0.84,"type":"quantitative"},"text":{"value":"epi"}}},
   {"data":{"values":[{}]},"mark":{"type":"text","fontSize":14,"align":"left","baseline":"middle","color":"#999"},"encoding":{"x":{"datum":-2.2,"type":"quantitative"},"y":{"datum":0.55,"type":"quantitative"},"text":{"value":"endo"}}}
  ]
 },
 {
  "layer":[
   {"data":{"values":[{}]},"mark":{"type":"rect","fill":"transparent","stroke":"#333","strokeWidth":1.2,"strokeDash":[6,3]},"encoding":{"x":{"datum":300,"type":"quantitative"},"x2":{"datum":955},"y":{"datum":170,"type":"quantitative"},"y2":{"datum":241}}},
   {"data":{"name":"E1fit"},"mark":{"type":"line","color":"#222","strokeWidth":3.5,"interpolate":"monotone"},
    "encoding":{
     "x":{"field":"cl","type":"quantitative","scale":{"domain":[300,5000],"range":[129,402],"nice":false,"zero":false},"axis":{"orient":"bottom","title":"CL (ms)","titleFontSize":24,"titleX":285,"titlePadding":0,"values":[600,1000,1400,1800,2200,2600,3000,3400,3800,4200,4600,5000],"labelExpr":"indexof([1000,3000,5000], datum.value) >= 0 ? datum.value : ''","labelFontSize":25,"labelColor":"#222","labelFlush":false,"offset":-200,"tickSize":-5,"domainColor":"#444","tickColor":"#444","labelPadding":4}},
     "y":{"field":"v","type":"quantitative","scale":{"domain":[150,500],"range":[505,308],"nice":false,"zero":false},"axis":{"orient":"left","title":"ms","titleFontSize":28,"values":[160,180,200,220,240,260,280,300,320,340,360,380,400,420,440,460,480,500],"labelExpr":"datum.value % 100 === 0 ? datum.value : ''","labelFontSize":28,"labelColor":"#222","offset":-110,"tickSize":-5,"domainColor":"#444","tickColor":"#444","labelPadding":4,"titlePadding":8}},
     "detail":{"field":"g","type":"nominal"}}},
   {"data":{"name":"E1pts"},"mark":{"type":"rule","color":"#333","strokeWidth":1},"encoding":{"x":{"field":"cl","type":"quantitative"},"y":{"field":"lo","type":"quantitative"},"y2":{"field":"hi"}}},
   {"data":{"name":"E1pts"},"mark":{"type":"tick","orient":"horizontal","color":"#333","thickness":1,"size":8},"encoding":{"x":{"field":"cl","type":"quantitative"},"y":{"field":"lo","type":"quantitative"}}},
   {"data":{"name":"E1pts"},"mark":{"type":"tick","orient":"horizontal","color":"#333","thickness":1,"size":8},"encoding":{"x":{"field":"cl","type":"quantitative"},"y":{"field":"hi","type":"quantitative"}}},
   {"data":{"name":"E1pts"},"transform":[{"filter":"datum.g !== 'endo'"}],"mark":{"type":"square","filled":true,"color":"#222","size":60},"encoding":{"x":{"field":"cl","type":"quantitative"},"y":{"field":"v","type":"quantitative"}}},
   {"data":{"name":"E1pts"},"transform":[{"filter":"datum.g === 'endo'"}],"mark":{"type":"square","filled":true,"fill":"#ffffff","stroke":"#666","strokeWidth":1,"size":60},"encoding":{"x":{"field":"cl","type":"quantitative"},"y":{"field":"v","type":"quantitative"}}},
   {"data":{"values":[{}]},"mark":{"type":"text","fontSize":32,"fontWeight":"bold","fontStyle":"italic"},"encoding":{"x":{"datum":1386,"type":"quantitative"},"y":{"datum":470,"type":"quantitative"},"text":{"value":"APD90"}}},
   {"data":{"values":[{}]},"mark":{"type":"text","fontSize":24,"fontWeight":"bold","fontStyle":"italic"},"encoding":{"x":{"datum":3397,"type":"quantitative"},"y":{"datum":392,"type":"quantitative"},"text":{"value":"M"}}},
   {"data":{"values":[{}]},"mark":{"type":"text","fontSize":24,"fontWeight":"bold","fontStyle":"italic"},"encoding":{"x":{"datum":3603,"type":"quantitative"},"y":{"datum":328,"type":"quantitative"},"text":{"value":"endo"}}},
   {"data":{"values":[{}]},"mark":{"type":"text","fontSize":24,"fontWeight":"bold","fontStyle":"italic"},"encoding":{"x":{"datum":3534,"type":"quantitative"},"y":{"datum":250,"type":"quantitative"},"text":{"value":"epi"}}},
   {"data":{"values":[{}]},"mark":{"type":"text","fontSize":32,"fontWeight":"bold","align":"left","baseline":"top"},"encoding":{"x":{"datum":-1800,"type":"quantitative"},"y":{"datum":519.5,"type":"quantitative"},"text":{"value":"E1"}}}
  ]
 },
 {
  "layer":[
   {"data":{"name":"E2fit"},"mark":{"type":"line","color":"#222","strokeWidth":2},
    "encoding":{
     "x":{"field":"cl","type":"quantitative","scale":{"domain":[256.5,1000],"range":[139.3,395.7],"nice":false,"zero":false},"axis":{"orient":"bottom","title":"CL (ms)","titleFontSize":23,"titleX":285,"titlePadding":3,"values":[300,387.5,475,562.5,650,737.5,825,912.5,1000],"labelExpr":"indexof([300,475,650,825,1000], datum.value) >= 0 ? datum.value : ''","labelFontSize":13,"labelColor":"#333","labelFlush":false,"tickSize":4,"labelPadding":2,"domainColor":"#666","tickColor":"#666","offset":-48.7}},
     "y":{"field":"v","type":"quantitative","scale":{"domain":[170,240],"range":[668.3,579.3],"nice":false,"zero":false},"axis":{"orient":"left","title":"ms","titleFontSize":26,"values":[170,180,190,200,210,220,230,240],"labelExpr":"indexof([170,190,210,230], datum.value) >= 0 ? datum.value : ''","labelFontSize":14,"labelColor":"#333","tickSize":4,"labelPadding":2,"titlePadding":6,"domainColor":"#666","tickColor":"#666","offset":-139.3}}}},
   {"data":{"name":"E2pts"},"mark":{"type":"rule","color":"#444","strokeWidth":1},"encoding":{"x":{"field":"cl","type":"quantitative"},"y":{"field":"lo","type":"quantitative"},"y2":{"field":"hi"}}},
   {"data":{"name":"E2pts"},"mark":{"type":"tick","orient":"horizontal","color":"#444","thickness":1,"size":8},"encoding":{"x":{"field":"cl","type":"quantitative"},"y":{"field":"lo","type":"quantitative"}}},
   {"data":{"name":"E2pts"},"mark":{"type":"tick","orient":"horizontal","color":"#444","thickness":1,"size":8},"encoding":{"x":{"field":"cl","type":"quantitative"},"y":{"field":"hi","type":"quantitative"}}},
   {"data":{"name":"E2pts"},"mark":{"type":"point","shape":"triangle-up","filled":true,"color":"#222","size":45},"encoding":{"x":{"field":"cl","type":"quantitative"},"y":{"field":"v","type":"quantitative"}}},
   {"data":{"values":[{}]},"mark":{"type":"text","fontSize":22,"fontWeight":"bold","fontStyle":"italic"},"encoding":{"x":{"datum":412,"type":"quantitative"},"y":{"datum":224,"type":"quantitative"},"text":{"value":"APD90"}}},
   {"data":{"values":[{}]},"mark":{"type":"text","fontSize":22,"fontWeight":"bold","fontStyle":"italic"},"encoding":{"x":{"datum":757,"type":"quantitative"},"y":{"datum":213,"type":"quantitative"},"text":{"value":"epi at"}}},
   {"data":{"values":[{}]},"mark":{"type":"text","fontSize":22,"fontWeight":"bold","fontStyle":"italic"},"encoding":{"x":{"datum":798,"type":"quantitative"},"y":{"datum":190,"type":"quantitative"},"text":{"value":"fast rate"}}},
   {"data":{"values":[{}]},"mark":{"type":"text","fontSize":28,"fontWeight":"bold","align":"left","baseline":"top"},"encoding":{"x":{"datum":46.9,"type":"quantitative"},"y":{"datum":247.3,"type":"quantitative"},"text":{"value":"E2"}}}
  ]
 },
 {
  "layer":[
   {"data":{"name":"Fendo"},"mark":{"type":"line","color":"#222","strokeWidth":1.3,"interpolate":"monotone"},
    "encoding":{
     "x":{"field":"t","type":"quantitative","scale":{"domain":[0,400],"range":[507.3,596],"nice":false},"axis":{"orient":"bottom","values":[0,50,100,150,200,250,300,350,400],"labels":false,"title":null,"tickSize":3,"offset":-338.7}},
     "y":{"field":"v","type":"quantitative","scale":{"domain":[-100,50],"range":[378.3,315],"nice":false},"axis":{"orient":"left","values":[-100,-50,0,50],"title":"mV","titleFontSize":22,"labelFontSize":9,"labelColor":"#555","tickSize":3,"labelPadding":2,"titlePadding":2,"offset":-507.3}},
     "detail":{"field":"c","type":"nominal"}}},
   {"data":{"values":[{}]},"mark":{"type":"rule","color":"#222","strokeWidth":1.2},"encoding":{"x":{"datum":215,"type":"quantitative"},"y":{"datum":14.5,"type":"quantitative"},"x2":{"datum":117},"y2":{"datum":-21}}},
   {"data":{"values":[{}]},"mark":{"type":"point","shape":"triangle-up","filled":true,"color":"#222","size":30,"angle":236},"encoding":{"x":{"datum":117,"type":"quantitative"},"y":{"datum":-21,"type":"quantitative"}}},
   {"data":{"values":[{}]},"mark":{"type":"text","fontSize":16,"fontWeight":"bold","fontStyle":"italic"},"encoding":{"x":{"datum":97,"type":"quantitative"},"y":{"datum":-52,"type":"quantitative"},"text":{"value":"endo"}}},
   {"data":{"values":[{}]},"mark":{"type":"text","fontSize":16,"fontWeight":"bold"},"encoding":{"x":{"datum":461,"type":"quantitative"},"y":{"datum":57,"type":"quantitative"},"text":{"value":"CL (ms)"}}},
   {"data":{"values":[{}]},"mark":{"type":"text","fontSize":16,"fontWeight":"bold","align":"right"},"encoding":{"x":{"datum":574,"type":"quantitative"},"y":{"datum":6,"type":"quantitative"},"text":{"value":"2000"}}},
   {"data":{"values":[{}]},"mark":{"type":"text","fontSize":16,"fontWeight":"bold","align":"right"},"encoding":{"x":{"datum":574,"type":"quantitative"},"y":{"datum":-45,"type":"quantitative"},"text":{"value":"1000"}}},
   {"data":{"values":[{}]},"mark":{"type":"text","fontSize":16,"fontWeight":"bold","align":"right"},"encoding":{"x":{"datum":583,"type":"quantitative"},"y":{"datum":-96,"type":"quantitative"},"text":{"value":"500"}}},
   {"data":{"values":[{}]},"mark":{"type":"rule","color":"#222","strokeWidth":1.5},"encoding":{"x":{"datum":604,"type":"quantitative"},"y":{"datum":19,"type":"quantitative"},"x2":{"datum":604},"y2":{"datum":-108}}},
   {"data":{"values":[{}]},"mark":{"type":"point","shape":"triangle-up","filled":true,"color":"#222","size":30,"angle":180},"encoding":{"x":{"datum":604,"type":"quantitative"},"y":{"datum":-108,"type":"quantitative"}}},
   {"data":{"values":[{}]},"mark":{"type":"text","fontSize":20,"fontWeight":"bold","align":"left","baseline":"top"},"encoding":{"x":{"datum":-287.6,"type":"quantitative"},"y":{"datum":61.9,"type":"quantitative"},"text":{"value":"F"}}}
  ]
 },
 {
  "layer":[
   {"data":{"name":"FM"},"mark":{"type":"line","color":"#222","strokeWidth":1.3,"interpolate":"monotone"},
    "encoding":{
     "x":{"field":"t","type":"quantitative","scale":{"domain":[0,400],"range":[507.3,596],"nice":false},"axis":{"orient":"bottom","values":[0,50,100,150,200,250,300,350,400],"labels":false,"title":null,"tickSize":3,"offset":-267}},
     "y":{"field":"v","type":"quantitative","scale":{"domain":[-100,50],"range":[450,386.7],"nice":false},"axis":{"orient":"left","values":[-100,-50,0,50],"title":"mV","titleFontSize":22,"labelFontSize":9,"labelColor":"#555","tickSize":3,"labelPadding":2,"titlePadding":2,"offset":-507.3}},
     "detail":{"field":"c","type":"nominal"}}},
   {"data":{"values":[{}]},"mark":{"type":"text","fontSize":16,"fontWeight":"bold","fontStyle":"italic"},"encoding":{"x":{"datum":86,"type":"quantitative"},"y":{"datum":-41,"type":"quantitative"},"text":{"value":"M"}}}
  ]
 },
 {
  "layer":[
   {"data":{"name":"Fepi"},"mark":{"type":"line","color":"#222","strokeWidth":1.3,"interpolate":"monotone"},
    "encoding":{
     "x":{"field":"t","type":"quantitative","scale":{"domain":[0,400],"range":[507.3,596],"nice":false},"axis":{"orient":"bottom","values":[0,50,100,150,200,250,300,350,400],"labelExpr":"datum.value % 200 === 0 ? datum.value : ''","labelFontSize":13,"labelColor":"#333","labelFlush":false,"title":"Time (ms)","titleFontSize":20,"titlePadding":1,"tickSize":3,"labelPadding":1,"offset":-197}},
     "y":{"field":"v","type":"quantitative","scale":{"domain":[-100,50],"range":[520,457.7],"nice":false},"axis":{"orient":"left","values":[-100,-50,0,50],"title":"mV","titleFontSize":22,"labelFontSize":9,"labelColor":"#555","tickSize":3,"labelPadding":2,"titlePadding":2,"offset":-507.3}},
     "detail":{"field":"c","type":"nominal"}}},
   {"data":{"values":[{}]},"mark":{"type":"text","fontSize":16,"fontWeight":"bold","fontStyle":"italic"},"encoding":{"x":{"datum":73,"type":"quantitative"},"y":{"datum":-57,"type":"quantitative"},"text":{"value":"epi"}}}
  ]
 },
 {
  "layer":[
   {"data":{"name":"G"},"mark":{"type":"line","color":"#222","strokeWidth":2},
    "encoding":{
     "x":{"field":"t","type":"quantitative","scale":{"domain":[0,400],"range":[491.7,640.7],"nice":false},"axis":{"orient":"bottom","values":[0,50,100,150,200,250,300,350,400],"labelExpr":"datum.value % 200 === 0 ? datum.value : ''","labelFontSize":13,"labelColor":"#333","labelFlush":false,"title":"Time (ms)","titleFontSize":20,"titlePadding":1,"tickSize":3,"labelPadding":1,"offset":-42}},
     "y":{"field":"v","type":"quantitative","scale":{"domain":[-0.12,1],"range":[670,590],"nice":false,"zero":false},"axis":null},
     "detail":{"field":"k","type":"nominal"}}},
   {"data":{"values":[{}]},"mark":{"type":"rule","color":"#222","strokeWidth":1.2},"encoding":{"x":{"datum":325,"type":"quantitative"},"y":{"datum":0.26,"type":"quantitative"},"x2":{"datum":252},"y2":{"datum":-0.08}}},
   {"data":{"values":[{}]},"mark":{"type":"point","shape":"triangle-up","filled":true,"color":"#222","size":30,"angle":228},"encoding":{"x":{"datum":252,"type":"quantitative"},"y":{"datum":-0.08,"type":"quantitative"}}},
   {"data":{"values":[{}]},"mark":{"type":"text","fontSize":20,"fontWeight":"bold","align":"left","baseline":"top"},"encoding":{"x":{"datum":-59,"type":"quantitative"},"y":{"datum":1.14,"type":"quantitative"},"text":{"value":"G"}}}
  ]
 },
 {
  "data":{"values":[{}]},
  "mark":{"type":"rule","color":"#888","strokeWidth":1.5},
  "encoding":{"x":{"datum":0,"type":"quantitative","scale":{"domain":[0,1],"range":[0,662]},"axis":null},"x2":{"datum":1},"y":{"datum":0.5,"type":"quantitative","scale":{"domain":[0,1],"range":[294,292]},"axis":null}}
 },
 {
  "data":{"values":[{}]},
  "mark":{"type":"rule","color":"#888","strokeWidth":1.5},
  "encoding":{"x":{"datum":0.5,"type":"quantitative","scale":{"domain":[0,1],"range":[436.3,438.3]},"axis":null},"y":{"datum":0,"type":"quantitative","scale":{"domain":[0,1],"range":[684,293]},"axis":null},"y2":{"datum":1}}
 }
]
}
